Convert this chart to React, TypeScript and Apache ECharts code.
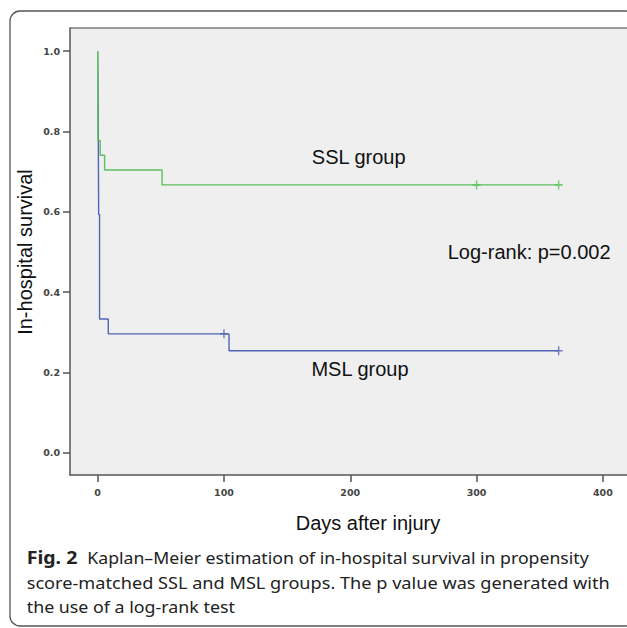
import React, { useEffect, useRef } from "react";
import * as echarts from "echarts";

// ---- data ----
const xTicks = [0, 100, 200, 300, 400];
const yTicks = [0, 0.2, 0.4, 0.6, 0.8, 1.0];

const sslDays = [0, 0.25, 2, 5.5, 51, 365];
const sslSurv = [1.0, 0.778, 0.741, 0.704, 0.667, 0.667];
const sslCensorDays = [300, 365];
const sslCensorSurv = [0.667, 0.667];

const mslDays = [0, 0.4, 0.8, 1.5, 8.4, 104, 365];
const mslSurv = [1.0, 0.852, 0.593, 0.333, 0.296, 0.254, 0.254];
const mslCensorDays = [100, 365];
const mslCensorSurv = [0.296, 0.254];

const xAxisTitle = "Days after injury";
const yAxisTitle = "In-hospital survival";
const sslLabel = "SSL group";
const mslLabel = "MSL group";
const pLabel = "Log-rank: p=0.002";
const figLabel = "Fig. 2";
const captionLines = [
  "Kaplan–Meier estimation of in-hospital survival in propensity",
  "score-matched SSL and MSL groups. The p value was generated with",
  "the use of a log-rank test",
];

const GREEN = "#5dbf5d";
const BLUE = "#5064b8";
const PLUS = "path://M3.2,0H4.6V8H3.2Z M0,3.3H7.8V4.7H0Z";

function measure(text: string, font: string): number {
  const c = document.createElement("canvas").getContext("2d");
  if (!c) return text.length * 8;
  c.font = font;
  return c.measureText(text).width;
}

export default function App() {
  const ref = useRef<HTMLDivElement>(null);

  useEffect(() => {
    if (!ref.current) return;
    const chart = echarts.init(ref.current, undefined, { renderer: "svg" });

    const capFont = '"Noto Sans", sans-serif';
    const capSize = 17;
    const figW = measure(figLabel, `bold ${capSize}px "Noto Sans"`);
    const capTargets = [
      { x: 87.3, end: 588.8, y: 557.0 },
      { x: 26.7, end: 610.0, y: 582.0 },
      { x: 26.7, end: 235.0, y: 606.0 },
    ];
    const captionEls = captionLines.map((t, i) => {
      const w = measure(t, `${capSize}px "Noto Sans"`);
      const tg = capTargets[i];
      return {
        type: "text",
        x: tg.x,
        y: tg.y,
        scaleX: (tg.end - tg.x) / w,
        style: {
          text: t,
          fill: "#222",
          font: `${capSize}px ${capFont}`,
          textAlign: "left",
          textVerticalAlign: "middle",
        },
      };
    });

    const sansFont = '20px "Liberation Sans", Arial, sans-serif';
    const tickLabel = {
      fontFamily: "DejaVu Sans",
      fontSize: 9.5,
      fontWeight: "bold",
      color: "#444",
    };

    const option: any = {
      animation: false,
      grid: {
        left: 70,
        top: 28,
        right: 0,
        bottom: 153,
        show: true,
        backgroundColor: "#efefef",
        borderWidth: 0,
      },
      xAxis: {
        type: "value",
        min: -21.9,
        max: 419.1,
        axisLine: { show: true, onZero: false, lineStyle: { color: "#555", width: 1.5 } },
        axisTick: { show: true, customValues: xTicks, length: 7, lineStyle: { color: "#555", width: 1.5 } },
        axisLabel: { ...tickLabel, customValues: xTicks, margin: 12, formatter: (v: number) => String(v) },
        splitLine: { show: false },
      },
      yAxis: {
        type: "value",
        min: -0.0555,
        max: 1.0578,
        axisLine: { show: true, onZero: false, lineStyle: { color: "#555", width: 1.5 } },
        axisTick: { show: true, customValues: yTicks, length: 7, lineStyle: { color: "#555", width: 1.5 } },
        axisLabel: { ...tickLabel, customValues: yTicks, margin: 10, formatter: (v: number) => v.toFixed(1) },
        splitLine: { show: false },
      },
      series: [
        {
          name: "MSL",
          type: "line",
          step: "end",
          showSymbol: false,
          data: mslDays.map((d, i) => [d, mslSurv[i]]),
          lineStyle: { color: BLUE, width: 1.4 },
          itemStyle: { color: BLUE },
          z: 2,
        },
        {
          name: "SSL",
          type: "line",
          step: "end",
          showSymbol: false,
          data: sslDays.map((d, i) => [d, sslSurv[i]]),
          lineStyle: { color: GREEN, width: 1.4 },
          itemStyle: { color: GREEN },
          z: 3,
        },
        {
          name: "MSL censored",
          type: "scatter",
          symbol: PLUS,
          symbolSize: [8, 9],
          data: mslCensorDays.map((d, i) => [d, mslCensorSurv[i]]),
          itemStyle: { color: BLUE },
          z: 4,
        },
        {
          name: "SSL censored",
          type: "scatter",
          symbol: PLUS,
          symbolSize: [8, 9],
          data: sslCensorDays.map((d, i) => [d, sslCensorSurv[i]]),
          itemStyle: { color: GREEN },
          z: 4,
        },
      ],
      graphic: [
        {
          type: "rect",
          shape: { x: 10, y: 11, width: 626, height: 615, r: 10 },
          style: { fill: "none", stroke: "#555", lineWidth: 1.3 },
          silent: true,
        },
        {
          type: "line",
          shape: { x1: 70, y1: 28, x2: 627, y2: 28 },
          style: { stroke: "#999", lineWidth: 2 },
          silent: true,
        },
        {
          type: "text",
          x: 358.7,
          y: 156.7,
          style: { text: sslLabel, font: sansFont, fill: "#111", textAlign: "center", textVerticalAlign: "middle" },
        },
        {
          type: "text",
          x: 360,
          y: 369,
          style: { text: mslLabel, font: sansFont, fill: "#111", textAlign: "center", textVerticalAlign: "middle" },
        },
        {
          type: "text",
          x: 447.7,
          y: 252.4,
          style: { text: pLabel, font: sansFont, fill: "#111", textAlign: "left", textVerticalAlign: "middle" },
        },
        {
          type: "text",
          x: 368,
          y: 522.7,
          style: { text: xAxisTitle, font: sansFont, fill: "#111", textAlign: "center", textVerticalAlign: "middle" },
        },
        {
          type: "text",
          x: 25,
          y: 252,
          rotation: Math.PI / 2,
          style: { text: yAxisTitle, font: sansFont, fill: "#111", textAlign: "center", textVerticalAlign: "middle" },
        },
        {
          type: "text",
          x: 26.7,
          y: 557.0,
          scaleX: 50.6 / figW,
          style: {
            text: figLabel,
            fill: "#222",
            font: `bold ${capSize}px ${capFont}`,
            textAlign: "left",
            textVerticalAlign: "middle",
          },
        },
        ...captionEls,
      ],
    };

    chart.setOption(option);
    return () => chart.dispose();
  }, []);

  return (
    <div
      ref={ref}
      style={{ position: "absolute", left: 0, top: 0, width: 627, height: 628, background: "#fff" }}
    />
  );
}
